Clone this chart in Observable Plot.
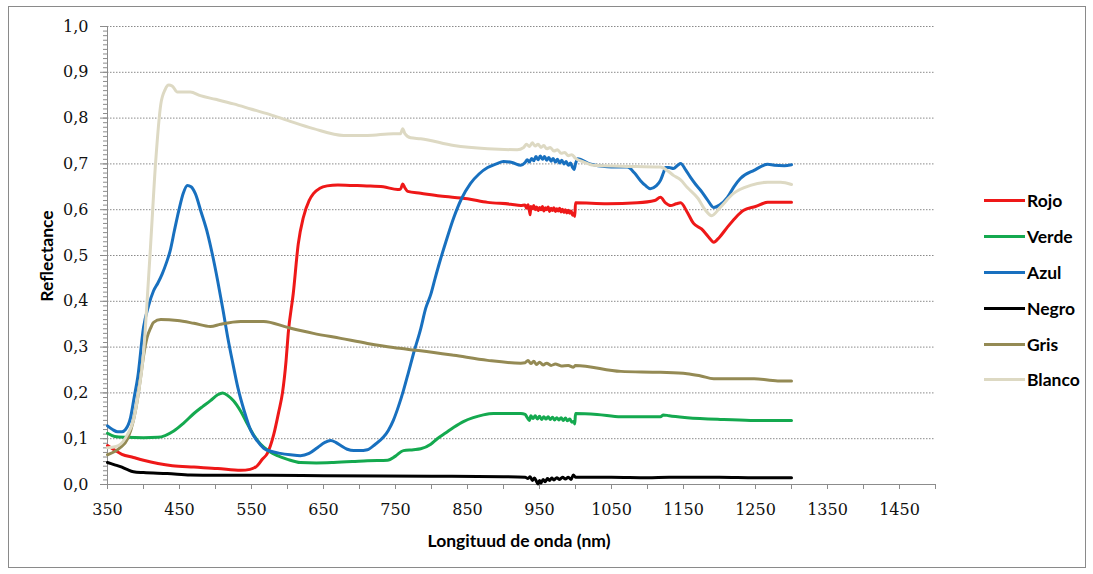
<!DOCTYPE html>
<html>
<head>
<meta charset="utf-8">
<script src="https://cdn.jsdelivr.net/npm/d3@7"></script>
<script src="https://cdn.jsdelivr.net/npm/@observablehq/plot@0.6"></script>
<style>
  html, body { margin: 0; padding: 0; background: #fff; }
  #wrap { position: relative; width: 1093px; height: 574px; overflow: hidden; background: #fff; }
  #border { position: absolute; left: 8px; top: 6px; width: 1076px; height: 560px; border: 1px solid #8a8a8a; }
  #chart { position: absolute; left: 0; top: 0; }
  .title { position: absolute; font-family: Lato, "Open Sans", sans-serif; font-weight: bold; font-size: 17.5px; color: #000; white-space: nowrap; }
  #xtitle { left: 519px; top: 540px; transform: translate(-50%, -50%); }
  #ytitle { left: 46px; top: 256px; transform: translate(-50%, -50%) rotate(-90deg); }
  #legend { position: absolute; left: 984px; top: 0; }
  .lg { position: absolute; left: 0; width: 110px; height: 22px; display: flex; align-items: center; font-family: Lato, "Open Sans", sans-serif; font-weight: bold; font-size: 17.5px; color: #000; }
  .lg span.sw { display: inline-block; width: 41px; height: 3px; margin-right: 2px; }
</style>
</head>
<body>
<div id="wrap">
  <div id="border"></div>
  <div id="chart"></div>
  <div class="title" id="xtitle">Longituud de onda (nm)</div>
  <div class="title" id="ytitle">Reflectance</div>
  <div id="legend"></div>
</div>
<script>
// ---- data ----
const seriesNames = ["Rojo", "Verde", "Azul", "Negro", "Gris", "Blanco"];
const seriesColors = ["#ee1818", "#14a94f", "#1870bf", "#000000", "#948a54", "#ddd9c3"];
const yTicks = [0, 0.1, 0.2, 0.3, 0.4, 0.5, 0.6, 0.7, 0.8, 0.9, 1.0];
const xTicks = [350, 400, 450, 500, 550, 600, 650, 700, 750, 800, 850, 900, 950, 1000, 1050, 1100, 1150, 1200, 1250, 1300, 1350, 1400, 1450, 1500];
const xLabels = [350, 450, 550, 650, 750, 850, 950, 1050, 1150, 1250, 1350, 1450];

const rojo = [[350,0.085],[360,0.075],[370,0.066],[386,0.059],[400,0.053],[420,0.046],[440,0.041],[470,0.038],[503,0.035],[535,0.031],[548,0.033],[558,0.041],[565,0.055],[572,0.068],[581,0.11],[588,0.16],[593,0.2],[598,0.27],[601,0.33],[608,0.417],[615,0.526],[622,0.583],[630,0.62],[636,0.635],[645,0.647],[655,0.652],[670,0.654],[687,0.653],[710,0.652],[733,0.65],[753,0.644],[757,0.645],[760,0.656],[763,0.648],[767,0.64],[785,0.636],[812,0.63],[850,0.624],[878,0.616],[910,0.612],[924,0.609],[930,0.61],[932,0.603],[934,0.611],[936,0.598],[937,0.589],[938,0.607],[940,0.602],[942,0.609],[944,0.6],[946,0.606],[948,0.598],[950,0.605],[952,0.6],[954,0.607],[956,0.597],[958,0.604],[960,0.6],[962,0.606],[964,0.596],[966,0.603],[968,0.598],[970,0.604],[972,0.596],[974,0.602],[976,0.597],[978,0.603],[980,0.595],[982,0.601],[984,0.594],[986,0.6],[988,0.593],[990,0.599],[992,0.592],[994,0.597],[996,0.588],[998,0.593],[999,0.585],[1000,0.615],[1044,0.613],[1086,0.615],[1110,0.62],[1118,0.627],[1125,0.615],[1132,0.609],[1140,0.613],[1146,0.615],[1155,0.595],[1164,0.57],[1175,0.558],[1185,0.54],[1192,0.529],[1200,0.54],[1211,0.562],[1222,0.582],[1233,0.598],[1250,0.607],[1267,0.616],[1300,0.616]];
const verde = [[350,0.112],[360,0.105],[375,0.103],[400,0.102],[420,0.103],[442,0.117],[455,0.133],[470,0.155],[482,0.17],[493,0.183],[503,0.196],[510,0.2],[518,0.193],[525,0.183],[535,0.16],[544,0.133],[553,0.108],[562,0.089],[575,0.072],[586,0.063],[600,0.055],[618,0.048],[640,0.047],[664,0.048],[690,0.05],[711,0.052],[739,0.053],[750,0.062],[761,0.074],[775,0.076],[785,0.078],[799,0.088],[808,0.1],[820,0.113],[831,0.125],[845,0.138],[858,0.146],[872,0.152],[886,0.155],[924,0.155],[930,0.153],[933,0.146],[936,0.14],[938,0.15],[941,0.144],[944,0.15],[947,0.143],[950,0.149],[953,0.142],[956,0.148],[959,0.143],[962,0.148],[965,0.142],[968,0.147],[971,0.141],[974,0.146],[977,0.141],[980,0.146],[983,0.14],[986,0.145],[989,0.139],[992,0.143],[995,0.136],[998,0.138],[999,0.132],[1000,0.155],[1030,0.153],[1063,0.148],[1118,0.148],[1122,0.152],[1130,0.15],[1155,0.146],[1201,0.142],[1243,0.14],[1300,0.14]];
const azul = [[350,0.128],[357,0.12],[364,0.115],[370,0.115],[375,0.12],[382,0.146],[387,0.19],[392,0.234],[400,0.343],[407,0.39],[414,0.423],[420,0.44],[426,0.46],[432,0.485],[437,0.51],[443,0.555],[449,0.598],[455,0.635],[461,0.653],[466,0.65],[472,0.635],[480,0.595],[489,0.548],[496,0.5],[503,0.445],[510,0.385],[517,0.321],[524,0.265],[531,0.212],[540,0.16],[549,0.118],[558,0.095],[567,0.079],[578,0.072],[590,0.068],[604,0.065],[618,0.063],[630,0.068],[642,0.081],[652,0.092],[660,0.096],[667,0.092],[674,0.085],[683,0.077],[692,0.074],[700,0.074],[711,0.076],[722,0.088],[733,0.103],[740,0.118],[747,0.14],[754,0.17],[761,0.205],[768,0.245],[775,0.286],[785,0.34],[792,0.385],[799,0.415],[805,0.45],[812,0.489],[820,0.53],[831,0.583],[842,0.625],[854,0.657],[866,0.678],[878,0.692],[890,0.7],[900,0.705],[912,0.703],[924,0.697],[930,0.703],[933,0.709],[936,0.704],[939,0.712],[942,0.707],[945,0.716],[948,0.709],[951,0.717],[954,0.71],[957,0.716],[960,0.708],[963,0.714],[966,0.706],[969,0.712],[972,0.704],[975,0.71],[978,0.702],[981,0.708],[984,0.7],[987,0.705],[990,0.697],[993,0.702],[996,0.692],[998,0.688],[1000,0.7],[1003,0.711],[1020,0.7],[1044,0.694],[1072,0.693],[1082,0.68],[1090,0.664],[1097,0.653],[1104,0.646],[1112,0.652],[1118,0.664],[1122,0.68],[1125,0.692],[1130,0.692],[1136,0.69],[1142,0.697],[1146,0.701],[1153,0.687],[1160,0.67],[1167,0.655],[1174,0.642],[1183,0.622],[1192,0.605],[1200,0.61],[1211,0.627],[1220,0.65],[1229,0.668],[1248,0.686],[1267,0.699],[1276,0.697],[1290,0.696],[1300,0.698]];
const negro = [[350,0.048],[360,0.043],[368,0.039],[377,0.033],[386,0.028],[400,0.026],[433,0.024],[465,0.021],[500,0.02],[572,0.02],[650,0.019],[800,0.018],[900,0.017],[930,0.016],[934,0.013],[937,0.017],[940,0.009],[943,0.014],[946,0.006],[948,0.001],[950,0.009],[952,0.003],[955,0.011],[958,0.006],[961,0.013],[964,0.009],[967,0.014],[970,0.01],[974,0.015],[978,0.011],[982,0.016],[986,0.012],[990,0.016],[994,0.011],[997,0.021],[1000,0.016],[1050,0.016],[1100,0.015],[1130,0.016],[1200,0.016],[1250,0.015],[1300,0.015]];
const gris = [[350,0.065],[360,0.072],[368,0.081],[378,0.1],[386,0.14],[391,0.18],[396,0.234],[400,0.28],[405,0.321],[410,0.342],[414,0.354],[424,0.36],[447,0.358],[470,0.352],[493,0.345],[507,0.35],[535,0.356],[567,0.356],[600,0.343],[636,0.33],[674,0.319],[711,0.308],[747,0.299],[785,0.292],[831,0.282],[878,0.271],[924,0.265],[930,0.266],[934,0.271],[938,0.264],[942,0.269],[946,0.262],[950,0.267],[955,0.261],[960,0.265],[966,0.26],[972,0.263],[980,0.259],[990,0.26],[997,0.256],[1000,0.26],[1063,0.247],[1118,0.245],[1155,0.242],[1174,0.237],[1192,0.231],[1248,0.231],[1281,0.226],[1300,0.226]];
const blanco = [[350,0.08],[365,0.085],[378,0.11],[386,0.14],[393,0.2],[400,0.286],[405,0.4],[410,0.526],[417,0.707],[424,0.83],[430,0.862],[435,0.872],[440,0.87],[447,0.857],[465,0.857],[479,0.849],[500,0.841],[525,0.831],[549,0.82],[575,0.808],[600,0.795],[636,0.777],[678,0.762],[711,0.762],[747,0.766],[757,0.766],[760,0.777],[763,0.766],[771,0.757],[785,0.755],[831,0.74],[878,0.733],[919,0.731],[928,0.736],[932,0.743],[936,0.738],[940,0.746],[944,0.739],[948,0.743],[952,0.736],[956,0.74],[960,0.733],[965,0.736],[970,0.728],[975,0.731],[980,0.723],[985,0.725],[990,0.718],[995,0.72],[1000,0.712],[1010,0.705],[1025,0.697],[1063,0.695],[1118,0.693],[1128,0.685],[1136,0.675],[1146,0.665],[1155,0.649],[1170,0.625],[1180,0.6],[1189,0.587],[1201,0.605],[1219,0.635],[1243,0.653],[1267,0.66],[1285,0.66],[1300,0.655]];

const seriesData = [rojo, verde, azul, negro, gris, blanco];
const minorY = d3.range(0, 101).map(i => i / 100);
const fmtY = d => d.toFixed(1).replace(".", ",");
const axisGray = "#8c8c8c";

const lineMarks = seriesData.map((data, i) =>
  Plot.line(data, {x: d => d[0], y: d => d[1], stroke: seriesColors[i], strokeWidth: 3, strokeLinejoin: "round", curve: "monotone-x"})
);

const chart = Plot.plot({
  width: 950,
  height: 574,
  marginLeft: 107,
  marginRight: 15,
  marginTop: 26,
  marginBottom: 90,
  x: {domain: [350, 1500]},
  y: {domain: [0, 1]},
  style: {fontFamily: "'DejaVu Serif', serif", fontSize: "16px", color: "#111", background: "transparent"},
  marks: [
    Plot.ruleY(yTicks.filter(d => d > 0), {stroke: "#8a8a8a", strokeDasharray: "1.5,1.5", strokeWidth: 1}),
    Plot.axisY(minorY, {tickSize: 4, tickFormat: () => "", stroke: axisGray, label: null}),
    Plot.axisY(yTicks, {tickSize: 7, tickPadding: 12, tickFormat: fmtY, stroke: axisGray, fill: "#111", label: null}),
    Plot.axisX(xTicks, {tickSize: 5, tickPadding: 14, tickFormat: d => xLabels.includes(d) ? String(d) : "", stroke: axisGray, fill: "#111", label: null}),
    Plot.ruleX([350], {stroke: axisGray}),
    Plot.ruleY([0], {stroke: axisGray}),
    ...lineMarks
  ]
});
document.getElementById("chart").appendChild(chart);

// legend
const legend = document.getElementById("legend");
const rowY = [200, 236, 272, 308, 344, 379];
seriesNames.forEach((name, i) => {
  const row = document.createElement("div");
  row.className = "lg";
  row.style.top = (rowY[i] - 11) + "px";
  const sw = document.createElement("span");
  sw.className = "sw";
  sw.style.background = seriesColors[i];
  row.appendChild(sw);
  row.appendChild(document.createTextNode(name));
  legend.appendChild(row);
});
</script>
</body>
</html>
